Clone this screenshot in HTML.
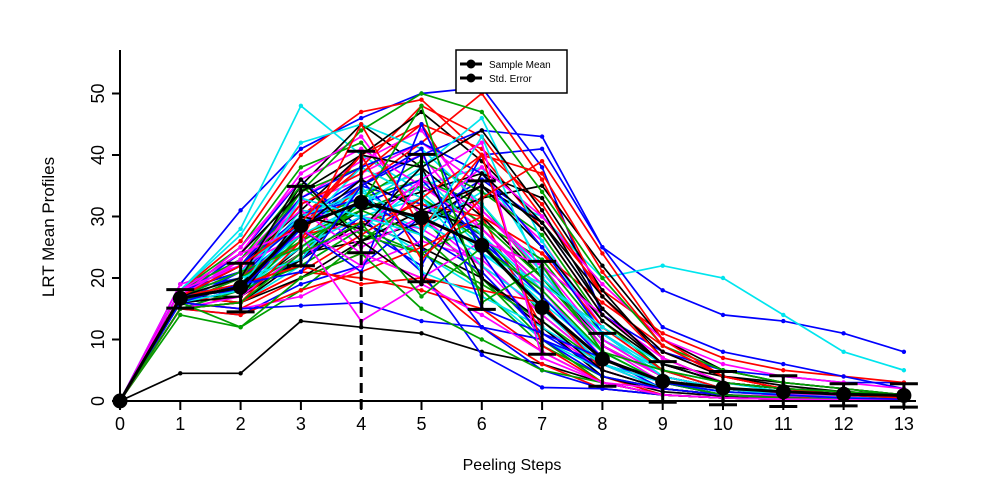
<!DOCTYPE html>
<html><head><meta charset="utf-8"><style>
html,body{margin:0;padding:0;background:#fff;width:1000px;height:478px;overflow:hidden}
svg{display:block;font-family:"Liberation Sans",Arial,sans-serif}
</style></head><body>
<svg id="chart" width="1000" height="478" viewBox="0 0 1000 478">
<g id="profiles"></g>
<g id="axes"></g>
<g id="means"></g>
<g>
<rect x="456" y="50" width="111" height="43" fill="#fff" stroke="#000" stroke-width="1.5"/>
<line x1="460" y1="64" x2="482" y2="64" stroke="#000" stroke-width="3"/><circle cx="471" cy="64" r="4.5" fill="#000"/>
<text x="489" y="68" font-size="10">Sample Mean</text>
<line x1="460" y1="78" x2="482" y2="78" stroke="#000" stroke-width="3"/><circle cx="471" cy="78" r="4.5" fill="#000"/>
<text x="489" y="82" font-size="10">Std. Error</text>
</g>
<text x="512" y="470" font-size="16" text-anchor="middle">Peeling Steps</text>
<text transform="translate(54,227) rotate(-90)" font-size="17" text-anchor="middle">LRT Mean Profiles</text>
</svg>
<script>
const steps=[0,1,2,3,4,5,6,7,8,9,10,11,12,13];
const yTicks=[0,10,20,30,40,50];
const means=[0,16.7,18.5,28.5,32.3,29.8,25.3,15.2,6.8,3.2,2.1,1.5,1.1,0.9];
const seLow=[0,15.1,14.5,22.0,24.1,19.4,14.9,7.6,2.4,-0.2,-0.6,-0.9,-0.8,-1.0];
const seHigh=[0,18.1,22.4,34.9,40.6,40.1,35.8,22.7,11.0,6.4,4.8,4.1,2.8,2.8];
const colors=["#0000ff","#ff0000","#00a000","#00e5ee","#ff00ff","#000000"];
const profiles=[
[17,20,30,35,32,27,15,6,2,1,0.5,0.3,0.2],
[16,18,28,40,45,30,12,4,1,0.5,0.3,0.2,0.1],
[18,25,38,42,30,20,10,3,1,0.5,0.3,0.2,0.1],
[15,16,22,28,35,38,22,8,3,2,1,0.5,0.3],
[17,22,32,36,40,28,18,7,3,1,0.8,0.5,0.3],
[4.5,4.5,13,12,11,8,6,3,1,0.5,0.3,0.2,0.1],
[19,31,41,46,50,51,38,14,8,5,4,3,3],
[16,15,20,24,20,12,6,2,1,0.5,0.3,0.2,0.1],
[17,19,29,33,36,32,20,9,4,2,1,1,0.5],
[18,28,48,40,34,25,16,8,3,1.5,1,0.8,0.5],
[15,17,25,30,28,22,12,5,2,1,0.5,0.3,0.2],
[16,20,35,45,38,30,20,10,4,2,1,0.6,0.4],
[17,24,36,28,22,40,41,25,18,14,13,11,8],
[18,21,30,38,48,43,30,18,11,7,5,4,3],
[14,12,18,26,33,27,17,8,3,1,0.5,0.3,0.2],
[16,18,26,32,28,34,30,20,22,20,14,8,5],
[19,22,32,37,42,35,26,12,5,2,1,0.5,0.3],
[17,16,23,29,25,20,12,4,1.5,0.8,0.4,0.2,0.1],
[15,14,19,22,30,36,29,15,6,3,2,1,0.5],
[18,26,40,47,49,40,28,14,6,3,2,1.5,1],
[16,17,27,31,35,29,23,11,4,2,1,0.7,0.4],
[17,19,31,30,24,18,10,5,2,1,0.5,0.3,0.2],
[16,23,33,39,44,31,21,9,3,1,0.5,0.4,0.2],
[17,18,24,26,29,33,35,22,10,5,3,2,1],
[18,20,28,35,40,44,43,25,12,8,6,4,2],
[15,16,21,20,18,15,8,3,1,0.5,0.3,0.2,0.1],
[17,22,34,38,33,26,14,6,2,1,0.5,0.3,0.2],
[16,19,29,34,37,27,18,8,3,1.5,1,0.5,0.3],
[18,24,37,43,30,22,15,7,3,2,1.5,1,0.5],
[17,17,25,31,34,37,33,18,7,3,2,1,0.5],
[16,21,30,36,25,12,5,2,1,0.5,0.3,0.2,0.1],
[17,20,27,29,32,30,24,16,9,4,2,1,0.7],
[15,18,24,33,39,34,27,13,5,2,1,0.5,0.3],
[18,27,42,45,41,32,21,10,5,3,2,1,0.6],
[16,15,17,22,26,23,14,6,2,1,0.5,0.3,0.2],
[17,22,31,40,47,39,29,15,6,4,3,2,1],
[16,18,23,30,21,7.5,2.2,2,1,0.5,0.3,0.2,0.1],
[17,19,26,35,42,50,36,17,8,4,2,1,0.5],
[18,23,35,27,24,29,20,9,4,2,1,1,0.5],
[16,17,28,38,33,24,17,8,3,1,0.6,0.4,0.2],
[17,21,33,25,30,38,30,19,10,6,4,3,2],
[15,16,20,26,31,28,19,9,4,2,1,0.5,0.3],
[18,22,30,33,27,21,11,5,2,1,0.5,0.3,0.2],
[16,20,32,37,45,41,32,17,7,3,2,1.5,0.8],
[17,18,22,28,24,19,13,6,3,1.5,1,0.5,0.3],
[16,19,27,32,38,46,26,11,5,2,1,0.5,0.3],
[17,25,36,41,35,28,19,9,4,2,1.2,0.8,0.5],
[16,17,23,33,29,35,25,13,6,3,2,1.5,1],
[18,21,29,32,36,26,17,7,2,1,0.5,0.3,0.2],
[15,14,18,21,25,30,24,12,5,2,1,0.6,0.3],
[17,20,34,44,50,47,34,20,9,5,3,2,1],
[16,18,25,30,33,22,15,6,2,1,0.5,0.3,0.2],
[17,23,31,24,20,26,22,14,7,3,2,1,0.5],
[16,19,28,36,31,35,29,17,8,4,2.5,1.5,1],
[18,22,33,38,42,37,25,11,4,2,1,0.5,0.3],
[17,16,21,27,33,40,37,21,9,4,2,1,0.6],
[16,20,26,31,27,18,9,4,2,1,0.5,0.3,0.2],
[17,21,30,34,29,24,19,12,6,3,1.5,1,0.5],
[15,17,24,28,36,31,22,10,4,2,1,0.5,0.3],
[18,24,34,40,38,44,31,15,6,3,2,1,0.5],
[16,15,15.5,16,13,12,10,6,3,1,0.5,0.3,0.2],
[17,19,22,19,20,18,16,5,2,1,0.6,0.4,0.2],
[16,12,20,24,15,10,5,3,1,0.5,0.3,0.2,0.1],
[17,20,23,35,21,17,12,6,3,1.5,1,0.6,0.3],
[18,22,27,13,19,14,8,3,2,1,0.5,0.3,0.2],
[16,17,30,28,38,20,13,5,2,1,0.5,0.3,0.2],
[17,18,28,21,45,24,10,4,2,1,0.5,0.3,0.2],
[15,16,26,45,28,40,9,3,1,0.5,0.3,0.2,0.1],
[17,21,25,32,48,16,22,8,3,1,0.5,0.3,0.2],
[16,18,33,30,27,43,20,11,4,2,1,0.5,0.3],
[18,24,28,22,36,42,7,3,1,0.5,0.3,0.2,0.1],
[17,20,36,26,19,37,28,14,6,3,2,1,0.5],
[16,19,21,35,41,15,11,7,3,1.5,1,0.5,0.3],
[17,22,29,40,23,33,39,24,10,4,2,1,0.5],
[15,16,24,29,17,25,18,8,5,3,2,1.5,1]
];
const NS="http://www.w3.org/2000/svg";
function xs(i){return 120+i*60.3;}
function ys(v){return 401-v*6.15;}
function mk(tag,attrs,parent){const e=document.createElementNS(NS,tag);for(const k in attrs)e.setAttribute(k,attrs[k]);parent.appendChild(e);return e;}
const gp=document.getElementById('profiles');
profiles.forEach((p,pi)=>{
  const vals=[0].concat(p);
  const c=colors[pi%colors.length];
  const pl=mk('polyline',{points:vals.map((v,i)=>xs(steps[i])+','+ys(v)).join(' '),fill:'none',stroke:c,'stroke-width':1.7},gp);
  
  
  vals.forEach((v,i)=>{
    if(i>0){
      const d=mk('circle',{cx:xs(steps[i]),cy:ys(v),r:2.2,fill:c},gp);
      
      
    }
  });
});
const ga=document.getElementById('axes');
mk('line',{x1:120,y1:50,x2:120,y2:401,stroke:'#000','stroke-width':2},ga);
mk('line',{x1:120,y1:401,x2:916,y2:401,stroke:'#000','stroke-width':2},ga);
yTicks.forEach(t=>{
  mk('line',{x1:112,y1:ys(t),x2:120,y2:ys(t),stroke:'#000','stroke-width':2},ga);
  const tx=mk('text',{transform:'translate(104,'+ys(t)+') rotate(-90)','font-size':18,'text-anchor':'middle'},ga);
  tx.textContent=t;
  
  
});
steps.forEach(s=>{
  mk('line',{x1:xs(s),y1:401,x2:xs(s),y2:410,stroke:'#000','stroke-width':2},ga);
  const tx=mk('text',{x:xs(s),y:430,'font-size':18,'text-anchor':'middle'},ga);
  tx.textContent=s;
  
  
});
const gm=document.getElementById('means');
mk('line',{x1:xs(4),y1:ys(0)+8,x2:xs(4),y2:ys(means[4]),stroke:'#000','stroke-width':3,'stroke-dasharray':'10,6'},gm);
mk('polyline',{points:means.map((v,i)=>xs(steps[i])+','+ys(v)).join(' '),fill:'none',stroke:'#000','stroke-width':3},gm);
means.forEach((m,i)=>{
  const x=xs(steps[i]);
  if(i>0){
    const e=mk('g',{},gm);
    
    
    mk('line',{x1:x,y1:ys(seLow[i]),x2:x,y2:ys(seHigh[i]),stroke:'#000','stroke-width':3},e);
    mk('line',{x1:x-14,y1:ys(seLow[i]),x2:x+14,y2:ys(seLow[i]),stroke:'#000','stroke-width':3},e);
    mk('line',{x1:x-14,y1:ys(seHigh[i]),x2:x+14,y2:ys(seHigh[i]),stroke:'#000','stroke-width':3},e);
  }
  const c=mk('circle',{cx:x,cy:ys(m),r:7.5,fill:'#000'},gm);
  
  
});
</script>
</body></html>
